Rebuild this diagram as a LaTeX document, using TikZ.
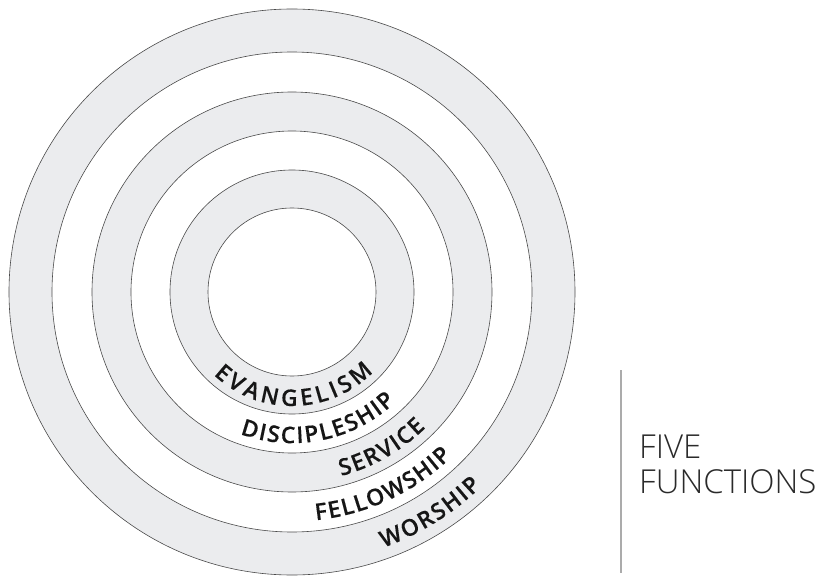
\documentclass[tikz,border=0pt]{standalone}
\usepackage{fontspec}
\setmainfont{Open Sans}
\IfFontExistsTF{Open Sans Semibold}
  {\newfontfamily\lblfont{Open Sans Semibold}[FakeBold=0.2]}
  {\IfFontExistsTF{Open Sans SemiBold}
     {\newfontfamily\lblfont{Open Sans SemiBold}[FakeBold=0.2]}
     {\newfontfamily\lblfont{Open Sans}[FakeBold=1.2]}}
\IfFontExistsTF{Open Sans Light}
  {\newfontfamily\thinfont{Open Sans Light}}
  {\newfontfamily\thinfont{Open Sans}}
\definecolor{ringfill}{HTML}{EBECEE}
\definecolor{ringline}{HTML}{4A4A4A}
\definecolor{rulegray}{HTML}{ABABAB}
\definecolor{labeltext}{HTML}{161616}
\definecolor{titletext}{HTML}{2A2A2A}
\newcommand\lblsize{\lblfont\fontsize{23pt}{23pt}\selectfont}
\newbox\lettbox
\newdimen\arcacc
\newdimen\arcmid
\makeatletter
\newcommand\measureletter[1]{%
  \pgfinterruptpicture
    \global\setbox\lettbox=\hbox{\normalfont\lblsize #1}%
  \endpgfinterruptpicture
}
% #1 baseline radius (pt), #2 centre angle, #3 tracking (pt), #4 letters
\newcommand\arcword[4]{%
  \global\arcacc=0pt
  \foreach \ch in {#4}{%
    \measureletter{\ch}%
    \global\advance\arcacc by \wd\lettbox
    \global\advance\arcacc by #3pt
  }%
  \global\advance\arcacc by -#3pt
  \edef\totw{\strip@pt\arcacc}%
  \pgfmathsetmacro\startang{#2-\totw/(2*#1)*180/pi}%
  \global\arcacc=0pt
  \foreach \ch in {#4}{%
    \measureletter{\ch}%
    \arcmid=\arcacc
    \advance\arcmid by 0.5\wd\lettbox
    \edef\midw{\strip@pt\arcmid}%
    \pgfmathsetmacro\ang{\startang+\midw/#1*180/pi}%
    \global\advance\arcacc by \wd\lettbox
    \global\advance\arcacc by #3pt
    \node[lbl,rotate=\ang+90] at (\ang:#1pt) {\ch};%
  }%
}
\makeatother
\tikzset{
  ringgray/.style={draw=ringline, line width=0.6pt, fill=ringfill},
  ringwhite/.style={draw=ringline, line width=0.6pt, fill=white},
  lbl/.style={font=\lblsize, text=labeltext, inner sep=0pt, anchor=base},
  titlelbl/.style={font=\thinfont\fontsize{33pt}{35pt}\selectfont, text=titletext, inner sep=0pt, anchor=base west},
}
\begin{document}
\begin{tikzpicture}[x=1pt,y=1pt]
\useasboundingbox (-292,-283) rectangle (534,292);
\fill[white] (-292,-283) rectangle (534,292);
% concentric rings
\draw[ringgray]  (0,0) circle[radius=283pt];
\draw[ringwhite] (0,0) circle[radius=240pt];
\draw[ringgray]  (0,0) circle[radius=200pt];
\draw[ringwhite] (0,0) circle[radius=161pt];
\draw[ringgray]  (0,0) circle[radius=122pt];
\draw[ringwhite] (0,0) circle[radius=84pt];
% curved labels
\arcword{114}{-89}{3.75}{E,V,A,N,G,E,L,I,S,M}
\arcword{151.2}{-78.4}{1.7}{D,I,S,C,I,P,L,E,S,H,I,P}
\arcword{190.5}{-60.2}{1.6}{S,E,R,V,I,C,E}
\arcword{229.5}{-64.9}{1.35}{F,E,L,L,O,W,S,H,I,P}
\arcword{271.5}{-58}{1.8}{W,O,R,S,H,I,P}
% separator and title
\coordinate (ruletop) at (329,-78);
\coordinate (rulebot) at (329,-281);
\draw[rulegray, line width=1.3pt] (ruletop) -- (rulebot);
\node[titlelbl] (five) at (347,-166) {FIVE};
\node[titlelbl] (functions) at (347,-201) {FUNCTIONS};
\end{tikzpicture}
\end{document}
